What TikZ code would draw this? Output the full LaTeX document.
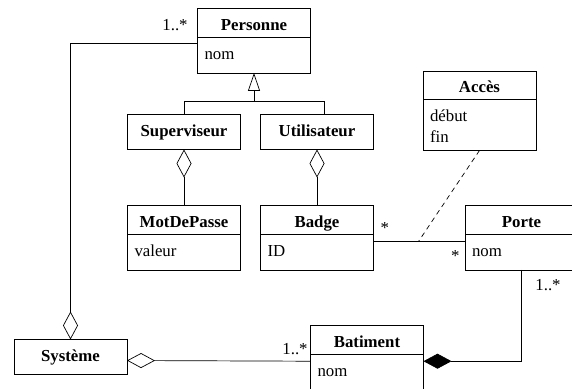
\documentclass[tikz,border=0pt]{standalone}
\usepackage{fontspec}
\setmainfont{Liberation Serif}
\usetikzlibrary{shapes.multipart,arrows.meta}

\newcommand{\nomclasse}[1]{\rule[-6.5pt]{0pt}{28pt}\textbf{#1}}
\newcommand{\attribut}[1]{\rule[-13.5pt]{0pt}{35pt}#1}

\tikzset{
  classe/.style={draw, line width=0.7pt, rectangle split, rectangle split parts=2,
    rectangle split part align={center,left}, minimum width=113pt,
    inner xsep=7pt, inner ysep=0pt, outer sep=0pt, anchor=north west},
  simple/.style={draw, line width=0.7pt, minimum width=113pt,
    inner xsep=7pt, inner ysep=0pt, outer sep=0pt, anchor=north west},
  lien/.style={line width=0.7pt},
  agreg/.style={lien, -{Diamond[open,length=28pt,width=15pt]}},
  compo/.style={lien, -{Diamond[length=28pt,width=15pt]}},
  herit/.style={lien, -{Triangle[open,length=18pt,width=12pt]}},
  pointille/.style={lien, dash pattern=on 5pt off 4pt},
  mult/.style={inner sep=0pt, anchor=base},
}

\begin{document}
\begin{tikzpicture}[x=1pt,y=-1pt,font=\fontsize{16.8}{21}\selectfont]
\path[use as bounding box, clip] (0,0) rectangle (572,388);

\node[classe] (pers) at (197.5,8.5) {\nomclasse{Personne}\nodepart{two}\attribut{nom}};
\node[classe, align=left] (acces) at (423,71) {\nomclasse{Accès}\nodepart{two}\rule{0pt}{21.5pt}début\\fin\rule[-7.5pt]{0pt}{7.5pt}};
\node[simple] (sup) at (127.5,114.5) {\attribut{\textbf{Superviseur}}};
\node[simple] (util) at (260.5,114.5) {\attribut{\textbf{Utilisateur}}};
\node[classe] (mdp) at (127.5,205.5) {\nomclasse{MotDePasse}\nodepart{two}\attribut{valeur}};
\node[classe] (badge) at (260.5,205.5) {\nomclasse{Badge}\nodepart{two}\attribut{ID}};
\node[classe] (porte) at (465,205.5) {\nomclasse{Porte}\nodepart{two}\attribut{nom}};
\node[classe] (bat) at (310.5,325.5) {\nomclasse{Batiment}\nodepart{two}\attribut{nom}};
\node[simple] (sys) at (14,339.5) {\attribut{\textbf{Système}}};

\coordinate (fourche) at ([yshift=-28pt]pers.south);
\draw[lien] (sup.north) |- (fourche) -| ([xshift=7pt]util.north);
\draw[herit] (fourche) -- (pers.south);
\draw[agreg] (mdp.north) -- (sup.south);
\draw[agreg] (badge.north) -- (util.south);
\draw[agreg] ([yshift=-3pt]pers.west) -| (sys.north);
\draw[lien] ([yshift=-4pt]badge.east) -- coordinate[pos=0.49] (milieu) ([yshift=-4pt]porte.west);
\draw[pointille] (acces.south) -- (milieu);
\draw[compo] (porte.south) |- ([yshift=-3.5pt]bat.east);
\draw[agreg] ([yshift=-3.5pt]bat.west) -- ([yshift=-3.5pt]sys.east);

\node[mult] (m1) at (175,30) {1..*};
\node[mult] (m2) at (384.7,233.5) {*};
\node[mult] (m3) at (455.3,261.7) {*};
\node[mult] (m4) at (548,290) {1..*};
\node[mult] (m5) at (295,354) {1..*};
\end{tikzpicture}
\end{document}
